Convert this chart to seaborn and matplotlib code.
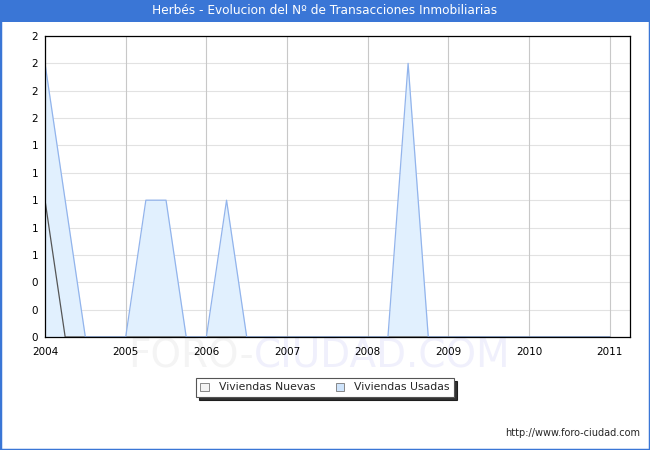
import numpy as np
import pandas as pd
import matplotlib
matplotlib.use("Agg")
import matplotlib.pyplot as plt
import seaborn as sns
from matplotlib.patches import Rectangle, Patch

# ---- data (quarterly, 2004Q1 .. 2011Q1) ----
years = [2004, 2005, 2006, 2007, 2008, 2009, 2010, 2011]
quarters_per_year = 4
nuevas = [1, 0, 0, 0,
          0, 0, 0, 0,
          0, 0, 0, 0,
          0, 0, 0, 0,
          0, 0, 0, 0,
          0, 0, 0, 0,
          0, 0, 0, 0,
          0]
usadas = [2, 1, 0, 0,
          0, 1, 1, 0,
          0, 1, 0, 0,
          0, 0, 0, 0,
          0, 0, 2, 0,
          0, 0, 0, 0,
          0, 0, 0, 0,
          0]
yticks = [0, 0.2, 0.4, 0.6, 0.8, 1.0, 1.2, 1.4, 1.6, 1.8, 2.0, 2.2]
title = "Herbés - Evolucion del Nº de Transacciones Inmobiliarias"
series_names = ["Viviendas Nuevas", "Viviendas Usadas"]

t = np.array([years[0] + i / quarters_per_year for i in range(len(usadas))])
df = pd.DataFrame({"t": t, "Viviendas Nuevas": nuevas, "Viviendas Usadas": usadas})

sns.set_style("white")
plt.rcParams['font.family'] = ['DejaVu Sans']

W, H = 650, 450
fig = plt.figure(figsize=(W / 100, H / 100), dpi=100)
blue = "#3a76d6"

# frame + title bar
fig.patches.append(Rectangle((0, 0), 1, 1, transform=fig.transFigure, fill=False,
                             edgecolor=blue, linewidth=2.5, zorder=0))
fig.patches.append(Rectangle((0, 1 - 22 / H), 1, 22 / H, transform=fig.transFigure,
                             facecolor=blue, edgecolor="none", zorder=1))
fig.text(0.5, 1 - 11 / H, title, color="white", ha="center", va="center", fontsize=8.7)

# watermark (behind everything)
wm1 = fig.text(128 / W, 1 - 367 / H, "FORO-", ha="left", va="baseline",
               fontsize=28, color="#f4f4f4", zorder=-2)
fig.canvas.draw()
bb = wm1.get_window_extent()
fig.text(bb.x1 / W, 1 - 367 / H, "CIUDAD.COM", ha="left", va="baseline",
         fontsize=28, color="#f0f0fc", zorder=-2)

ax = fig.add_axes([45 / W, 1 - 337 / H, 585 / W, 301 / H])
ax.set_facecolor("none")

# Nuevas
ax.fill_between(df["t"], df["Viviendas Nuevas"], 0, color="#f3f3f3", zorder=2, linewidth=0)
sns.lineplot(data=df, x="t", y="Viviendas Nuevas", ax=ax, color="#555555", linewidth=0.9, zorder=2.2)
# Usadas
ax.fill_between(df["t"], df["Viviendas Usadas"], 0, color="#e1f0fe", zorder=2, linewidth=0)
sns.lineplot(data=df, x="t", y="Viviendas Usadas", ax=ax, color="#92b4ec", linewidth=0.9, zorder=2.2)

ax.set_xlim(2004, 2011.25)
ax.set_ylim(0, 2.2)
ax.set_xticks(years)
ax.set_xticklabels([str(y) for y in years])
ax.set_yticks(yticks)
ax.set_yticklabels(["%.0f" % v for v in yticks])
ax.tick_params(labelsize=7.5, length=0, colors="black")
ax.tick_params(axis="x", pad=7)
ax.tick_params(axis="y", pad=5)
ax.set_xlabel("")
ax.set_ylabel("")
ax.grid(False)
for v in yticks:
    ax.axhline(v, color="#e2e2e2", linewidth=0.8, zorder=1)
for y in years:
    ax.axvline(y, color="#c8c8c8", linewidth=0.8, zorder=1)
for s in ax.spines.values():
    s.set_visible(True)
    s.set_color("black")
    s.set_linewidth(0.9)
    s.set_zorder(5)

# legend with shadow
handles = [Patch(facecolor="#f3f3f3", edgecolor="#777777", linewidth=0.6),
           Patch(facecolor="#cfe4fb", edgecolor="#777777", linewidth=0.6)]
leg = fig.legend(handles, series_names, loc="center", bbox_to_anchor=(325 / W, 1 - 387.5 / H),
                 ncol=2, fontsize=7.8, frameon=True, fancybox=False, shadow={'color': 'black', 'alpha': 0.8},
                 handlelength=0.8, handleheight=0.8, handletextpad=0.9, columnspacing=1.9,
                 borderpad=0.4, edgecolor="#555555")
leg.get_frame().set_linewidth(0.8)

fig.text(640 / W, 1 - 433 / H, "http://www.foro-ciudad.com", ha="right", va="center", fontsize=7)

fig.savefig("out.png", dpi=100)
